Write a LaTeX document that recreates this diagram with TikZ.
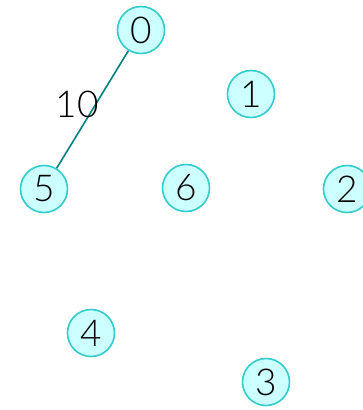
\documentclass[tikz,border=0pt]{standalone}
\usepackage{fontspec}
\setmainfont{Lato}[UprightFont=* Light]
\definecolor{nodefill}{RGB}{204,255,255}
\definecolor{nodedraw}{RGB}{51,204,204}
\definecolor{edgecol}{RGB}{0,128,128}
\begin{document}
\begin{tikzpicture}[x=1pt,y=-1pt,
  vert/.style={circle,draw=nodedraw,fill=nodefill,line width=1.6pt,minimum size=47pt,inner sep=0pt,font=\fontsize{37}{37}\selectfont},
  edge/.style={draw=edgecol,line width=1.6pt},
  elabel/.style={font=\fontsize{37}{37}\selectfont,inner sep=0pt}]
\useasboundingbox (0,0) rectangle (362,410);
\node[vert] (n0) at (141,30) {0};
\node[vert] (n1) at (251,94) {1};
\node[vert] (n5) at (44,189) {5};
\node[vert] (n6) at (186,188) {6};
\node[vert] (n2) at (347,189) {2};
\node[vert] (n4) at (91,333) {4};
\node[vert] (n3) at (266,382) {3};
\draw[edge] (n0) -- (n5);
\node[elabel] (l05) at (77,104) {10};
\end{tikzpicture}
\end{document}
